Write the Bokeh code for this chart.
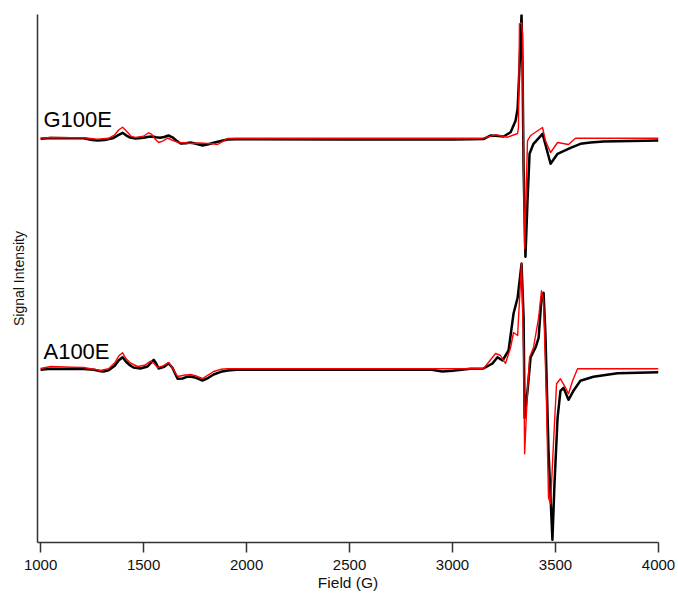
from bokeh.plotting import figure
from bokeh.models import Range1d, FixedTicker, Label
from bokeh.embed import file_html
from bokeh.resources import INLINE

# ---- data (field in G, intensity in arbitrary units relative to baseline) ----
g_exp_field = [1000, 1049, 1150, 1209, 1250, 1277, 1310, 1350, 1375, 1398, 1415, 1435, 1461, 1500,
               1525, 1544, 1560, 1580, 1600, 1621, 1640, 1660, 1680, 1705, 1728, 1755, 1786, 1815,
               1840, 1870, 1908, 1950, 2500, 3000, 3087, 3150, 3184, 3209, 3248,
               3282, 3306, 3316, 3325, 3335, 3340, 3345, 3354, 3364, 3374, 3393, 3437, 3476, 3510,
               3573, 3621, 3670, 3733, 4000]
g_exp_int = [0, 0.8, 0.5, 0.5, -1.2, -1.7, -1.2, 0.5, 3.5, 6, 3.5, 1.2, 0.3, 1,
             2, 2.3, 1.5, 1, 1.8, 3.3, 1.5, -2, -4.7, -4.5, -3.7, -5, -6.7, -5.5,
             -4, -2.5, -0.7, -0.5, -0.7, -0.7, -0.5, -0.3, 3.3, 3, 2.3,
             6.6, 18, 30, 71, 124, 71, -29, -118, -62, -15, -5, 5, -25, -15,
             -9, -5, -3.7, -2.7, -1.7]

g_sim_field = [1000, 1049, 1150, 1209, 1277, 1330, 1360, 1380, 1398, 1415, 1440, 1461, 1500, 1524,
               1540, 1555, 1573, 1595, 1617, 1640, 1670, 1700, 1730, 1770, 1811, 1835, 1859, 1885,
               1908, 1950, 3150, 3209, 3267, 3316, 3320, 3325, 3335, 3340,
               3345, 3350, 3364, 3379, 3437, 3451, 3476, 3510, 3563, 3597, 4000]
g_sim_int = [0.6, 1.3, 1, 1, -0.5, 0.5, 4, 9, 11.6, 8, 2.5, 1.3, 2.5, 6,
             4.5, 0, -3.7, -2, 0.8, -1.5, -3.7, -4, -4.7, -4.2, -4.7, -5, -5.7, -2.5,
             0.3, 0.6, 0.6, 4, 1.6, 5.3, 11, 115, 116, 105,
             -29, -110, -2, 3.3, 11.3, -1.7, -13.7, -3.7, -5.7, 0.6, 0.6]

a_exp_field = [1000, 1049, 1150, 1209, 1260, 1291, 1306, 1330, 1360, 1380, 1398, 1415, 1435, 1451,
               1485, 1519, 1535, 1549, 1562, 1573, 1600, 1621, 1640, 1665, 1689, 1710, 1728, 1755,
               1786, 1815, 1840, 1875, 1908, 1950, 2900, 2950, 3000, 3087, 3150, 3194,
               3218, 3243, 3272, 3296, 3316, 3335, 3345, 3350, 3364, 3379, 3403, 3418, 3432, 3442,
               3451, 3466, 3485, 3495, 3510, 3524, 3539, 3563, 3587, 3621, 3684, 3801, 4000]
a_exp_int = [0, 1, 0.8, 0.8, 0, -1.5, -1.7, -0.5, 4, 9.5, 12.6, 8, 4.3, 2.3,
             1.3, 3.3, 7, 10, 6, 1.3, 3, 6.6, 2, -9, -8.7, -7, -6.7, -8,
             -10.7, -8, -4.7, -2, -0.7, 0, 0, -1.7, -1, 1, 1.3, 6.3,
             12.6, 9.3, 19.3, 56, 72, 106, 52, -48, -21, 12.3, 22.3, 32, 72, 77,
             36, -81, -170, -114, -48, -21, -18, -30, -21, -11, -7, -3.4, -2.4]

a_sim_field = [1000, 1049, 1150, 1209, 1291, 1330, 1360, 1380, 1398, 1415, 1440, 1471, 1505, 1534,
               1550, 1568, 1595, 1621, 1640, 1665, 1695, 1728, 1760, 1786, 1815, 1840, 1875,
               1908, 1950, 3150, 3209, 3233, 3257, 3282, 3296, 3316, 3325, 3335, 3345,
               3350, 3364, 3374, 3393, 3418, 3432, 3442, 3456, 3466, 3476, 3490, 3505, 3524, 3549,
               3563, 3583, 3607, 4000]
a_sim_int = [1.3, 3.3, 2.5, 2.3, -0.7, 1, 7, 14, 17, 11, 6.3, 3.3, 4.5, 8.6,
             6.5, 2.3, 4, 7.3, 2, -6.7, -5.5, -4.7, -6.5, -8.7, -5, -1.7, 0.5,
             1, 1, 1, 16.3, 14.3, 6.3, 22.3, 37.3, 34.3, 69, 107, 19,
             -84, -21, 12.3, 22.3, 52, 79, 69, -31, -128, -134, -74, -14, -9, -18,
             -24, -11, 1, 1]

sample_names = ["G100E", "A100E"]
x_ticks = [1000, 1500, 2000, 2500, 3000, 3500, 4000]

# ---- layout ----
offset_g = 403.7
offset_a = 172.7
FONT = "Liberation Sans"

p = figure(width=678, height=593, output_backend="svg", toolbar_location=None,
           x_range=Range1d(985, 4000), y_range=Range1d(0, 528),
           min_border_left=37, min_border_right=20, min_border_top=14, min_border_bottom=51)
p.grid.visible = False
p.outline_line_color = None
p.background_fill_color = "white"

# experimental (black) then simulated (red)
p.line(g_exp_field, [v + offset_g for v in g_exp_int], line_color="black", line_width=2.5,
       line_join="round")
p.line(g_sim_field, [v + offset_g for v in g_sim_int], line_color="#ff0000", line_width=1.4,
       line_join="round")
p.line(a_exp_field, [v + offset_a for v in a_exp_int], line_color="black", line_width=2.5,
       line_join="round")
p.line(a_sim_field, [v + offset_a for v in a_sim_int], line_color="#ff0000", line_width=1.4,
       line_join="round")

for name, yb in zip(sample_names, [offset_g + 19, offset_a + 18.5]):
    p.add_layout(Label(x=1014, y=yb, text=name, text_font=FONT, text_font_size="22px",
                       text_color="black", text_baseline="alphabetic", text_align="left"))

# x axis
xa = p.xaxis[0]
xa.ticker = FixedTicker(ticks=x_ticks)
xa.minor_tick_line_color = None
xa.major_tick_in = 0
xa.major_tick_out = 10
xa.major_tick_line_color = "#333333"
xa.major_tick_line_width = 1.5
xa.axis_line_color = "#333333"
xa.axis_line_width = 1.5
xa.major_label_text_font = FONT
xa.major_label_text_font_size = "15px"
xa.major_label_text_color = "#111111"
xa.major_label_standoff = 7
xa.axis_label = "Field (G)"
xa.axis_label_text_font = FONT
xa.axis_label_text_font_size = "15.5px"
xa.axis_label_text_font_style = "normal"
xa.axis_label_text_color = "#111111"
xa.axis_label_standoff = 1

# y axis
ya = p.yaxis[0]
ya.ticker = FixedTicker(ticks=[])
ya.minor_tick_line_color = None
ya.major_tick_line_color = None
ya.major_label_text_font_size = "0px"
ya.axis_line_color = "#333333"
ya.axis_line_width = 1.5
ya.axis_label = "Signal Intensity"
ya.axis_label_text_font = FONT
ya.axis_label_text_font_size = "14px"
ya.axis_label_text_font_style = "normal"
ya.axis_label_text_color = "#111111"
ya.axis_label_standoff = 11

open("out.html", "w").write(file_html(p, INLINE))
